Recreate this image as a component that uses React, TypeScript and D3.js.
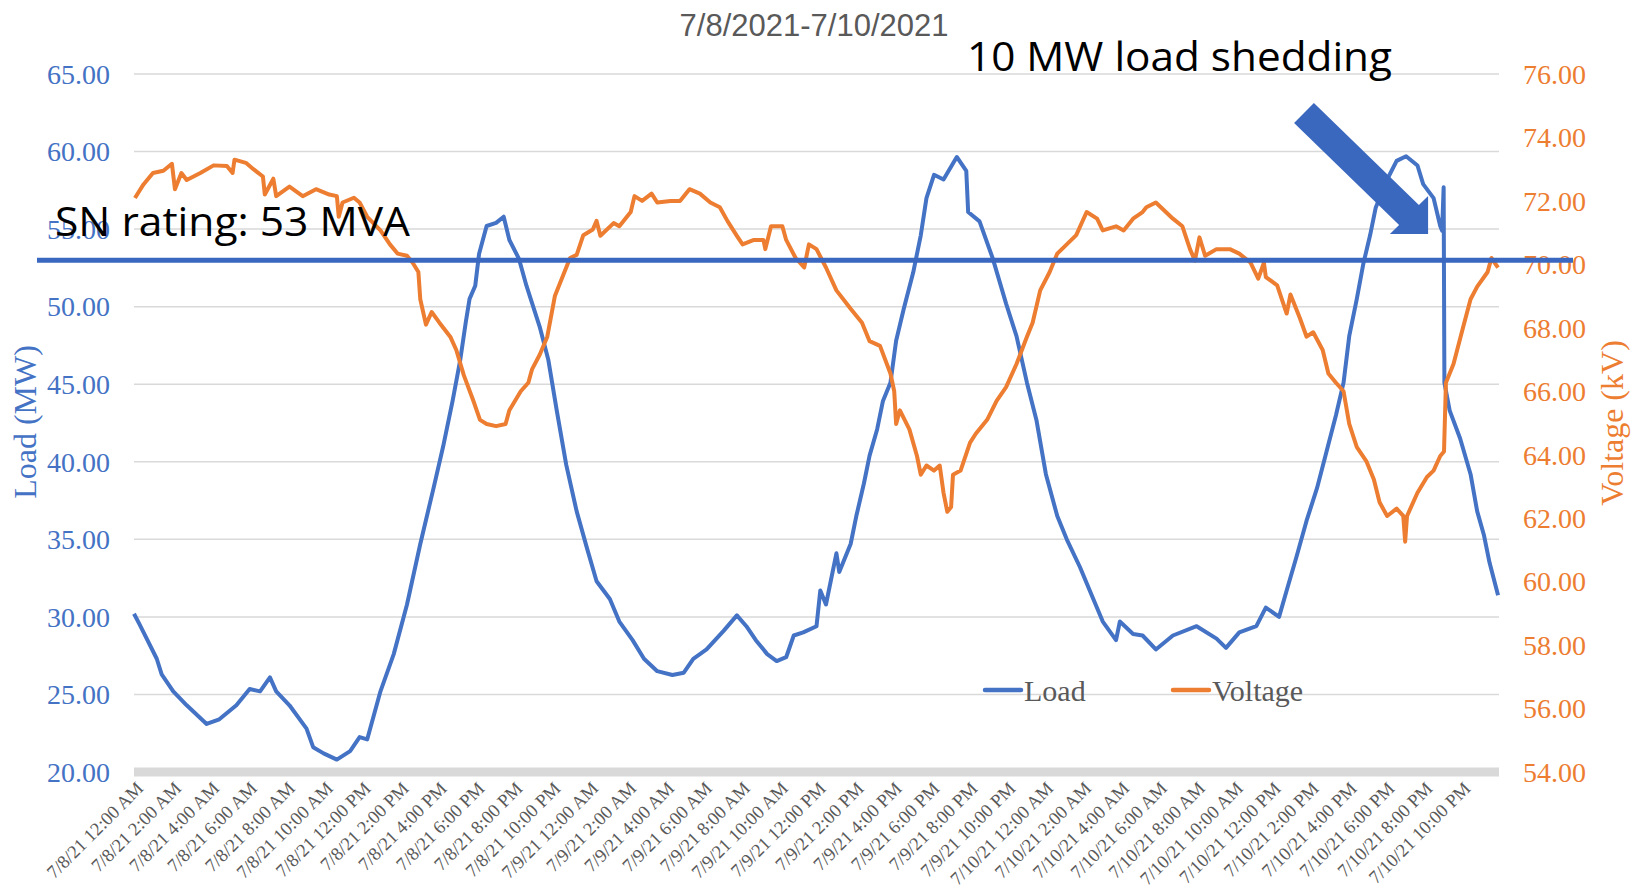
import React from 'react';
import * as d3 from 'd3';

// chart values (hours from 7/8/21 12:00 AM)
const loadHours = [0, 0.3, 1.2, 1.46, 2.07, 2.78, 3.83, 4.5, 5.4, 6.1, 6.65, 7.17, 7.5, 8.2, 9.1, 9.45, 10, 10.7, 11.4, 11.9, 12.3, 13, 13.7, 14.4, 15.1, 15.8, 16.3, 16.8, 17.2, 17.5, 17.7, 18, 18.2, 18.6, 19.1, 19.5, 19.8, 20.3, 20.7, 21.4, 21.85, 22.3, 22.8, 23.35, 23.9, 24.4, 25.1, 25.6, 26.3, 26.9, 27.6, 28.4, 29, 29.5, 30.2, 31.1, 31.8, 32.3, 32.8, 33.4, 33.9, 34.4, 34.8, 35.3, 36, 36.2, 36.5, 37.05, 37.2, 37.8, 38.1, 38.5, 38.8, 39.2, 39.5, 39.9, 40.2, 40.6, 41.1, 41.5, 41.8, 42.2, 42.7, 43.4, 43.9, 44, 44.6, 45.3, 46, 46.55, 47.1, 47.6, 48.1, 48.7, 49.2, 49.9, 50.6, 51.1, 51.8, 52, 52.7, 53.2, 53.9, 54.8, 56.05, 57.1, 57.6, 58.3, 59.2, 59.7, 60.4, 60.8, 61.3, 61.85, 62.4, 62.9, 63.4, 63.8, 64.1, 64.5, 64.85, 65.2, 65.5, 66.1, 66.6, 67.1, 67.7, 68, 68.55, 68.9, 69, 69.08, 69.12, 69.4, 69.95, 70.5, 70.85, 71.2, 71.5, 71.95];
const loadMW = [30.2, 29.5, 27.3, 26.3, 25.2, 24.3, 23.1, 23.4, 24.3, 25.35, 25.2, 26.1, 25.2, 24.3, 22.8, 21.6, 21.2, 20.8, 21.35, 22.25, 22.1, 25.2, 27.6, 30.8, 34.7, 38.3, 40.95, 43.9, 46.5, 49, 50.5, 51.35, 53.4, 55.2, 55.4, 55.8, 54.3, 53.1, 51.35, 48.7, 46.6, 43.3, 39.8, 36.8, 34.4, 32.3, 31.15, 29.7, 28.5, 27.3, 26.5, 26.25, 26.4, 27.3, 27.9, 29.1, 30.1, 29.4, 28.5, 27.6, 27.15, 27.4, 28.8, 29, 29.4, 31.7, 30.8, 34.1, 32.9, 34.7, 36.5, 38.6, 40.4, 42.1, 43.9, 45.1, 47.8, 49.85, 52.2, 54.6, 57, 58.5, 58.2, 59.65, 58.75, 56.1, 55.5, 53.1, 50.2, 48.1, 45.1, 42.7, 39.2, 36.5, 35, 33.2, 31.15, 29.7, 28.5, 29.7, 28.9, 28.8, 27.9, 28.8, 29.4, 28.6, 28, 29, 29.4, 30.6, 30, 31.7, 33.8, 36.2, 38.3, 40.65, 43, 45.1, 48.1, 50.5, 52.8, 54.6, 56.4, 58.2, 59.4, 59.7, 59.1, 57.9, 57, 55.2, 54.9, 57.7, 45.1, 43.3, 41.5, 39.2, 36.8, 35.3, 33.5, 31.4];

const voltHours = [0.05, 0.5, 1, 1.55, 2, 2.16, 2.5, 2.78, 3.5, 4.2, 4.9, 5.2, 5.3, 5.9, 6.3, 6.8, 6.9, 7.35, 7.5, 8.2, 8.9, 9.6, 10.3, 10.7, 10.8, 11, 11.6, 11.9, 12.3, 13, 13.5, 13.9, 14.4, 14.7, 15, 15.1, 15.4, 15.7, 16.1, 16.7, 17, 17.4, 17.9, 18.25, 18.6, 19.1, 19.6, 19.8, 20.4, 20.8, 21, 21.4, 21.8, 22.2, 22.6, 23, 23.35, 23.7, 24.2, 24.4, 24.6, 25.3, 25.6, 26.2, 26.4, 26.8, 27.3, 27.6, 28.3, 28.8, 29.3, 29.85, 30.4, 30.9, 31.3, 31.8, 32.1, 32.7, 33.2, 33.3, 33.6, 34.2, 34.4, 34.9, 35.35, 35.6, 36, 36.5, 37.05, 37.8, 38.4, 38.8, 39.35, 39.9, 40.1, 40.2, 40.4, 40.9, 41.3, 41.5, 41.8, 42.2, 42.5, 42.7, 42.9, 43.1, 43.2, 43.6, 44.1, 44.4, 45, 45.5, 46, 46.55, 47.1, 47.4, 47.8, 48.3, 48.7, 49.2, 49.7, 50.25, 50.8, 51.1, 51.8, 52.2, 52.7, 53.2, 53.4, 53.9, 54.8, 55.3, 55.7, 55.96, 56.2, 56.5, 57.1, 57.8, 58.3, 58.9, 59.3, 59.6, 59.7, 60.3, 60.8, 61, 61.5, 61.85, 62.2, 62.7, 63, 63.4, 63.8, 64.1, 64.5, 65, 65.4, 65.7, 66.1, 66.6, 66.95, 67.05, 67.15, 67.7, 68.2, 68.55, 68.9, 69.1, 69.2, 69.6, 70.1, 70.5, 70.85, 71.4, 71.6, 71.95];
const voltKV = [72.09, 72.52, 72.88, 72.95, 73.17, 72.37, 72.88, 72.66, 72.88, 73.12, 73.1, 72.88, 73.3, 73.2, 73, 72.77, 72.2, 72.7, 72.15, 72.45, 72.15, 72.37, 72.2, 72.15, 71.5, 71.95, 72.1, 71.95, 71.5, 71.07, 70.63, 70.34, 70.27, 70.05, 69.76, 68.9, 68.1, 68.5, 68.17, 67.7, 67.3, 66.5, 65.7, 65.1, 64.97, 64.9, 64.97, 65.4, 66, 66.27, 66.7, 67.15, 67.72, 69, 69.6, 70.2, 70.3, 70.92, 71.1, 71.37, 70.9, 71.3, 71.2, 71.65, 72.15, 72, 72.23, 71.95, 72, 72, 72.37, 72.23, 71.95, 71.8, 71.37, 70.9, 70.63, 70.77, 70.77, 70.48, 71.2, 71.2, 70.77, 70.2, 69.9, 70.63, 70.48, 69.9, 69.18, 68.6, 68.16, 67.58, 67.43, 66.56, 66, 64.97, 65.4, 64.8, 63.96, 63.37, 63.66, 63.5, 63.66, 62.8, 62.2, 62.35, 63.37, 63.5, 64.38, 64.66, 65.1, 65.7, 66.13, 66.86, 67.72, 68.16, 69.18, 69.76, 70.34, 70.63, 70.92, 71.65, 71.44, 71.07, 71.2, 71.07, 71.44, 71.65, 71.8, 71.95, 71.44, 71.2, 70.48, 70.12, 70.85, 70.27, 70.48, 70.48, 70.34, 70.05, 69.55, 70.05, 69.6, 69.34, 68.45, 69.05, 68.3, 67.72, 67.86, 67.3, 66.56, 66.27, 66, 64.97, 64.24, 63.8, 63.22, 62.5, 62.07, 62.3, 62.07, 61.26, 62.07, 62.8, 63.3, 63.5, 63.96, 64.1, 66.27, 66.86, 68, 68.9, 69.3, 69.76, 70.2, 69.9];

const days = ['7/8/21', '7/9/21', '7/10/21'];
const times = ['12:00 AM', '2:00 AM', '4:00 AM', '6:00 AM', '8:00 AM', '10:00 AM', '12:00 PM', '2:00 PM', '4:00 PM', '6:00 PM', '8:00 PM', '10:00 PM'];
const leftTicks = [20, 25, 30, 35, 40, 45, 50, 55, 60, 65];
const rightTicks = [54, 56, 58, 60, 62, 64, 66, 68, 70, 72, 74, 76];
const snRating = 53;

const W = 1638;
const H = 892;
const m = { l: 134, r: 1499, t: 74, b: 772 };

export default function App() {
    const x = d3.scaleLinear().domain([0, 72]).range([m.l, m.r]);
    const yL = d3.scaleLinear().domain([20, 65]).range([m.b, m.t]);
    const yV = d3.scaleLinear().domain([54, 76]).range([m.b, m.t]);

    const load = loadHours.map((h, i) => [h, loadMW[i]]);
    const volt = voltHours.map((h, i) => [h, voltKV[i]]);

    const loadLine = d3.line<number[]>().x(d => x(d[0])).y(d => yL(d[1]));
    const voltLine = d3.line<number[]>().x(d => x(d[0])).y(d => yV(d[1]));

    const labels = days.flatMap(d => times.map(t => `${d} ${t}`));

    // arrow for the load shedding note
    const T = [1304, 113], B = [1409, 215];
    const u = [Math.SQRT1_2, Math.SQRT1_2], n = [Math.SQRT1_2, -Math.SQRT1_2];
    const p = (o: number[], a: number, v: number[]) => [o[0] + a * v[0], o[1] + a * v[1]];
    const arrow = [p(T, 14, n), p(B, 14, n), p(B, 27, n), p(B, 27, u), p(B, -27, n), p(B, -14, n), p(T, -14, n)]
        .map(q => q.join(',')).join(' ');

    const serif = '"Liberation Serif", "Times New Roman", serif';
    const sans = '"Open Sans", "Noto Sans", sans-serif';

    return (
        <svg width={W} height={H} style={{ position: 'absolute', left: 0, top: 0, background: '#fff' }}>
            <text x={814} y={36} textAnchor="middle" fontFamily='"Liberation Sans", Arial, sans-serif' fontSize={31} fill="#595959">7/8/2021-7/10/2021</text>

            {leftTicks.slice(1).map(t =>
                <line key={t} x1={m.l} x2={m.r} y1={yL(t)} y2={yL(t)} stroke="#d9d9d9" strokeWidth={1.5} />)}
            <line x1={m.l} x2={m.r} y1={m.b} y2={m.b} stroke="#d9d9d9" strokeWidth={9} />

            <g fontFamily={serif} fontSize={28} fill="#4472C4" textAnchor="end">
                {leftTicks.map(t => <text key={t} x={110} y={yL(t)} dy="0.35em">{t.toFixed(2)}</text>)}
            </g>
            <g fontFamily={serif} fontSize={28} fill="#ED7D31">
                {rightTicks.map(t => <text key={t} x={1523} y={yV(t)} dy="0.35em">{t.toFixed(2)}</text>)}
            </g>
            <text transform="translate(36,422) rotate(-90)" textAnchor="middle" fontFamily={serif} fontSize={32} fill="#4472C4">Load (MW)</text>
            <text transform="translate(1623,423) rotate(-90)" textAnchor="middle" fontFamily={serif} fontSize={32} fill="#ED7D31">Voltage (kV)</text>

            <g fontFamily={serif} fontSize={18.5} fill="#595959">
                {labels.map((l, i) =>
                    <text key={l} transform={`translate(${x(i * 2) + 2},781) rotate(-45)`} x={0} y={12} textAnchor="end">{l}</text>)}
            </g>

            <path d={loadLine(load) || ''} fill="none" stroke="#4472C4" strokeWidth={4} strokeLinejoin="round" />
            <path d={voltLine(volt) || ''} fill="none" stroke="#ED7D31" strokeWidth={4} strokeLinejoin="round" />

            <g fontFamily={serif} fontSize={30} fill="#595959">
                <line x1={985} x2={1021} y1={690} y2={690} stroke="#4472C4" strokeWidth={4.5} strokeLinecap="round" />
                <text x={1024} y={701}>Load</text>
                <line x1={1173} x2={1209} y1={690} y2={690} stroke="#ED7D31" strokeWidth={4.5} strokeLinecap="round" />
                <text x={1212} y={701}>Voltage</text>
            </g>

            <line x1={37} x2={1573} y1={yL(snRating)} y2={yL(snRating)} stroke="#3A67BF" strokeWidth={5} />
            <text x={55} y={236} fontFamily={sans} fontSize={40} fill="#000" textLength={355} lengthAdjust="spacingAndGlyphs">SN rating: 53 MVA</text>
            <text x={967} y={71} fontFamily={sans} fontSize={41} fill="#000" textLength={425} lengthAdjust="spacingAndGlyphs">10 MW load shedding</text>
            <polygon points={arrow} fill="#3A68BF" />
        </svg>
    );
}
